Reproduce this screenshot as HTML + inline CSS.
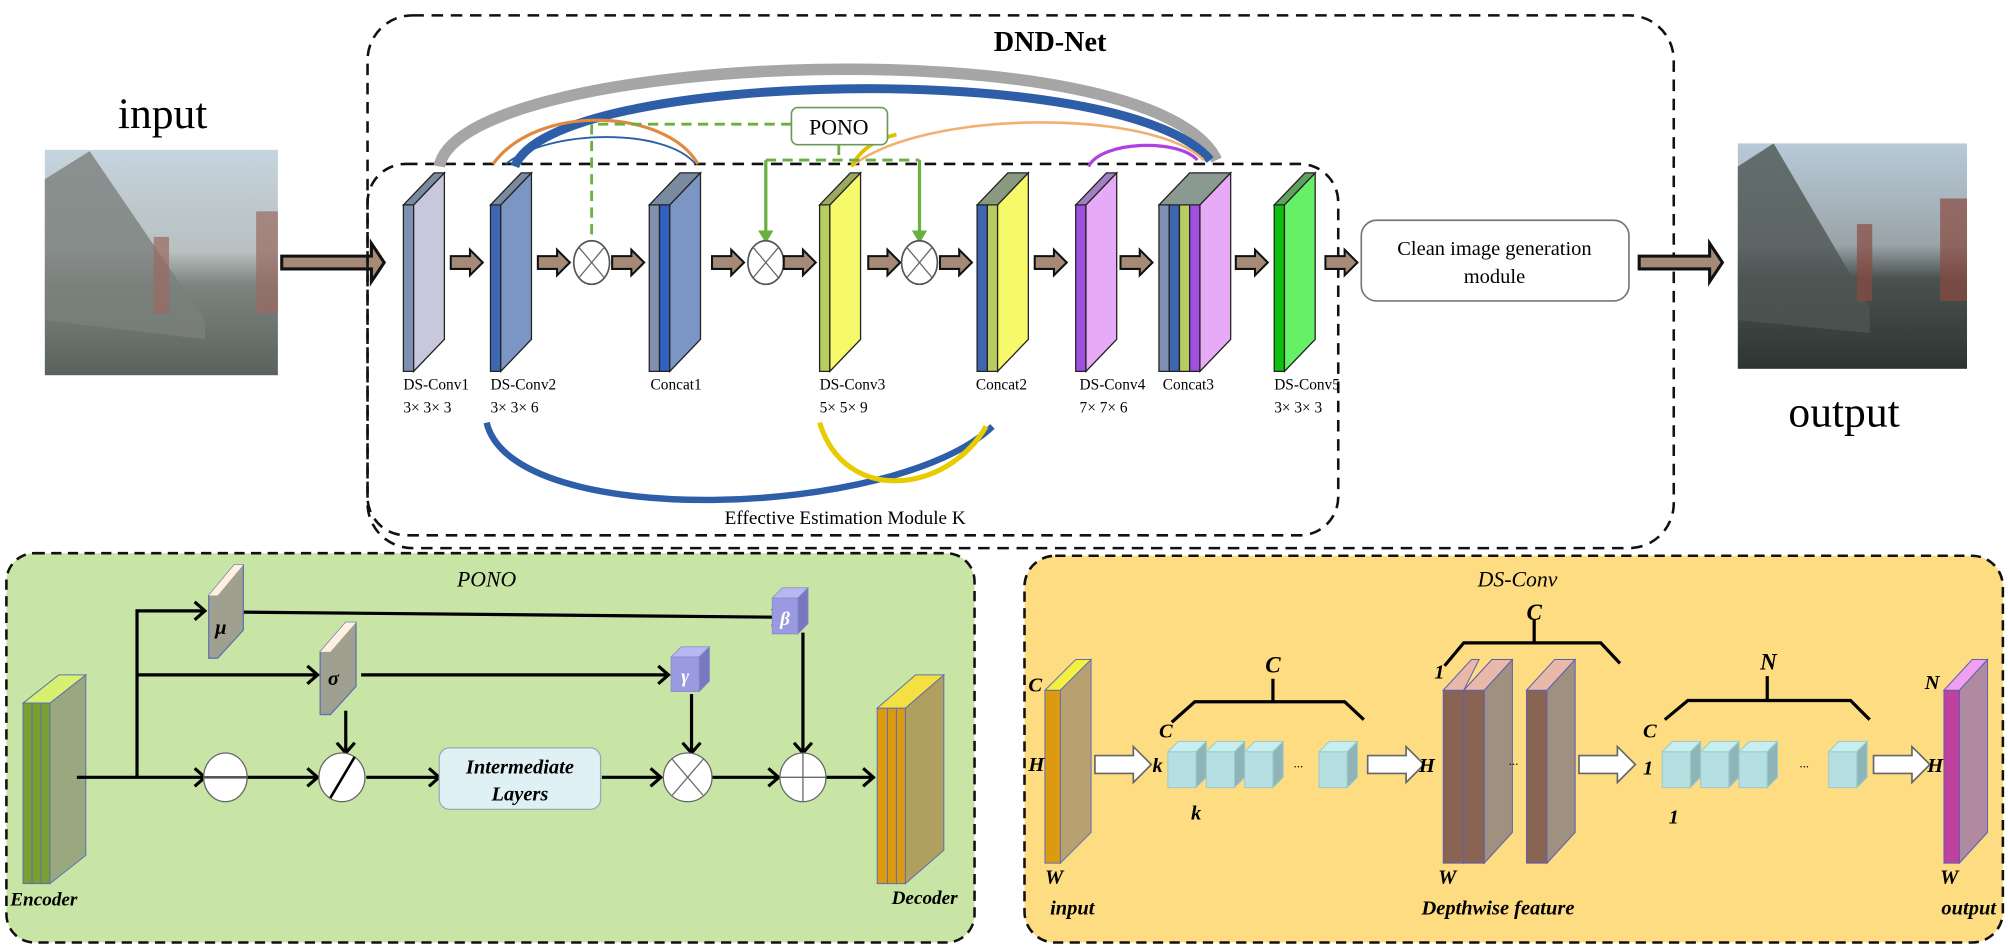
<!DOCTYPE html>
<html><head><meta charset="utf-8"><style>
html,body{margin:0;padding:0;background:#fff;overflow:hidden;}
svg{display:block;}
text{font-family:"Liberation Serif",serif;}
</style></head><body>
<svg width="2008" height="947" viewBox="0 0 1568 739.5" preserveAspectRatio="none" xmlns="http://www.w3.org/2000/svg">
<defs>
<linearGradient id="sky" x1="0" y1="0" x2="0" y2="1">
<stop offset="0" stop-color="#c6d4de"/><stop offset="0.45" stop-color="#b8c0c0"/><stop offset="0.6" stop-color="#7c8480"/><stop offset="1" stop-color="#5a625e"/></linearGradient>
<linearGradient id="sky2" x1="0" y1="0" x2="0" y2="1">
<stop offset="0" stop-color="#b8cad8"/><stop offset="0.45" stop-color="#9aa4a8"/><stop offset="0.6" stop-color="#4a5250"/><stop offset="1" stop-color="#2e3432"/></linearGradient>
<g id="sarrow"><polygon points="0,-5 15,-5 15,-10 25,0 15,10 15,5 0,5" fill="#a58a78" stroke="#111" stroke-width="1.6"/></g>
<g id="otimes"><ellipse cx="0" cy="0" rx="14" ry="17" fill="#fff" stroke="#555" stroke-width="1.3"/><line x1="-10" y1="-12" x2="10" y2="12" stroke="#666"/><line x1="10" y1="-12" x2="-10" y2="12" stroke="#666"/></g>
<g id="warrow"><polygon points="0,-7 30,-7 30,-14 44,0 30,14 30,7 0,7" fill="#fff" stroke="#666" stroke-width="1.3"/></g>
<g id="cube"><polygon points="0,0 22,0 22,28 0,28" fill="#b6dfe2" stroke="#9cc" stroke-width="0.8"/><polygon points="0,0 8,-8 30,-8 22,0" fill="#c8eef0" stroke="#9cc" stroke-width="0.8"/><polygon points="22,0 30,-8 30,20 22,28" fill="#8fb4b8" stroke="#9cc" stroke-width="0.8"/></g>
</defs>

<!-- input -->
<text x="127" y="100" font-size="34" text-anchor="middle">input</text>
<rect x="35" y="117" width="182" height="176" fill="url(#sky)"/>
<polygon points="35,140 70,118 160,250 160,265 35,250" fill="#7a807c" opacity="0.8"/>
<rect x="120" y="185" width="12" height="60" fill="#9a6a60" opacity="0.7"/>
<rect x="200" y="165" width="17" height="80" fill="#9a6a60" opacity="0.7"/>
<polygon points="220,200 290,200 290,190 300,205 290,220 290,210 220,210" fill="#a58a78" stroke="#111" stroke-width="2.4"/>

<!-- DND-Net outer box -->
<rect x="287" y="12" width="1020" height="416" rx="35" fill="none" stroke="#111" stroke-width="2" stroke-dasharray="9,6"/>
<text x="820" y="40" font-size="22" font-weight="bold" text-anchor="middle">DND-Net</text>
<rect x="287" y="128" width="758" height="290" rx="30" fill="none" stroke="#111" stroke-width="2" stroke-dasharray="9,6"/>

<!-- arcs top -->
<path d="M343,130 C360,40 900,20 950,125" fill="none" stroke="#a6a6a6" stroke-width="9"/>
<path d="M402,130 C430,55 880,45 945,125" fill="none" stroke="#2e5ea8" stroke-width="7"/>
<path d="M385,128 C420,80 520,85 545,128" fill="none" stroke="#e08a40" stroke-width="2.5"/>
<path d="M395,128 C430,100 520,100 543,128" fill="none" stroke="#2e5ea8" stroke-width="1.5"/>
<path d="M665,130 C720,85 900,85 940,125" fill="none" stroke="#f2b070" stroke-width="2"/>
<path d="M665,130 C670,120 680,110 700,105" fill="none" stroke="#e0c000" stroke-width="3"/>
<path d="M850,130 C860,110 920,108 935,125" fill="none" stroke="#b040e0" stroke-width="2.5"/>
<!-- bottom arcs -->
<path d="M380,330 C400,415 700,405 775,333" fill="none" stroke="#2e5ea8" stroke-width="5"/>
<path d="M640,330 C660,395 740,385 770,333" fill="none" stroke="#e8cc00" stroke-width="4"/>

<!-- PONO box -->
<rect x="618" y="84" width="75" height="29" rx="5" fill="#fff" stroke="#6a9a5a" stroke-width="1.3"/>
<text x="655" y="105" font-size="17" text-anchor="middle">PONO</text>
<path d="M618,97 L462,97 L462,190" fill="none" stroke="#6ab040" stroke-width="2.2" stroke-dasharray="8,5"/>
<path d="M655,113 L655,123 M598,125 L718,125" fill="none" stroke="#6ab040" stroke-width="2.2" stroke-dasharray="8,5"/>
<path d="M598,125 L598,182 M718,125 L718,182" stroke="#6ab040" stroke-width="2.5"/>
<polygon points="592,180 604,180 598,190" fill="#6ab040"/>
<polygon points="712,180 724,180 718,190" fill="#6ab040"/>

<!-- layers -->
<g stroke="#222" stroke-width="1">
<polygon points="315,160 323,160 323,290 315,290" fill="#8090b0"/>
<polygon points="323,160 347,135 347,265 323,290" fill="#c8c8dc"/>
<polygon points="315,160 339,135 347,135 323,160" fill="#7a8aa0"/>

<polygon points="383,160 391,160 391,290 383,290" fill="#3f66b0"/>
<polygon points="391,160 415,135 415,265 391,290" fill="#7b96c4"/>
<polygon points="383,160 407,135 415,135 391,160" fill="#7a8aa0"/>

<polygon points="507,160 515,160 515,290 507,290" fill="#8090b0"/>
<polygon points="515,160 523,160 523,290 515,290" fill="#3060c0"/>
<polygon points="507,160 531,135 547,135 523,160" fill="#7a8aa0"/>
<polygon points="523,160 547,135 547,265 523,290" fill="#7b96c4"/>

<polygon points="640,160 648,160 648,290 640,290" fill="#b8cc60"/>
<polygon points="648,160 672,135 672,265 648,290" fill="#f6fa6a"/>
<polygon points="640,160 664,135 672,135 648,160" fill="#9aaa60"/>

<polygon points="763,160 771,160 771,290 763,290" fill="#3f66b0"/>
<polygon points="771,160 779,160 779,290 771,290" fill="#b8cc60"/>
<polygon points="763,160 787,135 803,135 779,160" fill="#8a9a80"/>
<polygon points="779,160 803,135 803,265 779,290" fill="#f6fa6a"/>

<polygon points="840,160 848,160 848,290 840,290" fill="#a050e0"/>
<polygon points="848,160 872,135 872,265 848,290" fill="#e6aaf6"/>
<polygon points="840,160 864,135 872,135 848,160" fill="#a080c0"/>

<polygon points="905,160 913,160 913,290 905,290" fill="#8090b0"/>
<polygon points="913,160 921,160 921,290 913,290" fill="#3f66b0"/>
<polygon points="921,160 929,160 929,290 921,290" fill="#b8cc60"/>
<polygon points="929,160 937,160 937,290 929,290" fill="#a050e0"/>
<polygon points="905,160 929,135 961,135 937,160" fill="#8a9a90"/>
<polygon points="937,160 961,135 961,265 937,290" fill="#e6aaf6"/>

<polygon points="995,160 1003,160 1003,290 995,290" fill="#10c010"/>
<polygon points="1003,160 1027,135 1027,265 1003,290" fill="#66f066"/>
<polygon points="995,160 1019,135 1027,135 1003,160" fill="#60a060"/>
</g>
<use href="#sarrow" x="352" y="205"/>
<use href="#sarrow" x="420" y="205"/>
<use href="#otimes" x="462" y="205"/>
<use href="#sarrow" x="478" y="205"/>
<use href="#sarrow" x="556" y="205"/>
<use href="#otimes" x="598" y="205"/>
<use href="#sarrow" x="612" y="205"/>
<use href="#sarrow" x="678" y="205"/>
<use href="#otimes" x="718" y="205"/>
<use href="#sarrow" x="734" y="205"/>
<use href="#sarrow" x="808" y="205"/>
<use href="#sarrow" x="875" y="205"/>
<use href="#sarrow" x="965" y="205"/>
<use href="#sarrow" x="1035" y="205"/>

<g font-size="12">
<text x="315" y="304">DS-Conv1</text><text x="315" y="322">3× 3× 3</text>
<text x="383" y="304">DS-Conv2</text><text x="383" y="322">3× 3× 6</text>
<text x="508" y="304">Concat1</text>
<text x="640" y="304">DS-Conv3</text><text x="640" y="322">5× 5× 9</text>
<text x="762" y="304">Concat2</text>
<text x="843" y="304">DS-Conv4</text><text x="843" y="322">7× 7× 6</text>
<text x="908" y="304">Concat3</text>
<text x="995" y="304">DS-Conv5</text><text x="995" y="322">3× 3× 3</text>
</g>
<text x="660" y="409" font-size="15" text-anchor="middle">Effective Estimation Module K</text>

<rect x="1063" y="172" width="209" height="63" rx="12" fill="#fff" stroke="#777" stroke-width="1.3"/>
<text x="1167" y="199" font-size="16" text-anchor="middle">Clean image generation</text>
<text x="1167" y="221" font-size="16" text-anchor="middle">module</text>
<polygon points="1280,200 1335,200 1335,190 1345,205 1335,220 1335,210 1280,210" fill="#a58a78" stroke="#111" stroke-width="2.4"/>
<rect x="1357" y="112" width="179" height="176" fill="url(#sky2)"/>
<polygon points="1357,130 1385,112 1460,240 1460,260 1357,250" fill="#4e5654" opacity="0.8"/>
<rect x="1450" y="175" width="12" height="60" fill="#8a4a40" opacity="0.7"/>
<rect x="1515" y="155" width="21" height="80" fill="#8a4a40" opacity="0.7"/>
<text x="1440" y="333" font-size="34" text-anchor="middle">output</text>

<!-- PONO panel -->
<rect x="5" y="432" width="756" height="304" rx="22" fill="#c9e5a6" stroke="#111" stroke-width="2" stroke-dasharray="8,5"/>
<text x="380" y="458" font-size="17" font-style="italic" text-anchor="middle">PONO</text>
<g stroke="#6070b0" stroke-width="0.8">
<polygon points="39,549 67,527 67,668 39,690" fill="#9aa880"/>
<rect x="18" y="549" width="7" height="141" fill="#78a030"/>
<rect x="25" y="549" width="7" height="141" fill="#78a030"/>
<rect x="32" y="549" width="7" height="141" fill="#78a030"/>
<polygon points="18,549 46,527 67,527 39,549" fill="#d8f070"/>
</g>
<text x="8" y="707" font-size="15" font-weight="bold" font-style="italic">Encoder</text>
<g stroke="#6070b0" stroke-width="0.8">
<polygon points="707,553 737,527 737,664 707,690" fill="#b0a060"/>
<rect x="685" y="553" width="8" height="137" fill="#dc9a10"/>
<rect x="693" y="553" width="7" height="137" fill="#dc9a10"/>
<rect x="700" y="553" width="7" height="137" fill="#dc9a10"/>
<polygon points="685,553 715,527 737,527 707,553" fill="#f4e040"/>
</g>
<text x="722" y="706" font-size="15" font-weight="bold" font-style="italic" text-anchor="middle">Decoder</text>
<g stroke="#000" stroke-width="2.5" fill="none">
<path d="M60,607 L160,607"/><path d="M107,607 L107,477 L158,477"/><path d="M107,527 L246,527"/>
<path d="M193,607 L248,607"/><path d="M286,607 L343,607"/><path d="M470,607 L516,607"/><path d="M556,607 L608,607"/><path d="M645,607 L682,607"/>
<path d="M190,478 L611,482"/><path d="M282,527 L522,527"/>
<path d="M270,555 L270,587"/><path d="M540,542 L540,587"/><path d="M627,494 L627,587"/>
</g>
<g fill="none" stroke="#000" stroke-width="2.5">
<path d="M152,470 L160,477 L152,484"/><path d="M240,520 L248,527 L240,534"/>
<path d="M152,600 L160,607 L152,614"/><path d="M240,600 L248,607 L240,614"/><path d="M335,600 L343,607 L335,614"/>
<path d="M508,600 L516,607 L508,614"/><path d="M600,600 L608,607 L600,614"/><path d="M674,600 L682,607 L674,614"/>
<path d="M603,475 L611,482 L603,489"/><path d="M514,520 L522,527 L514,534"/>
<path d="M263,580 L270,588 L277,580"/><path d="M533,580 L540,588 L547,580"/><path d="M620,580 L627,588 L634,580"/>
</g>
<polygon points="163,465 183,441 190,441 190,492 170,514 163,514" fill="#a0a090" stroke="#6070b0"/>
<polygon points="163,465 183,441 190,441 170,465" fill="#fff0e0"/>
<text x="168" y="495" font-size="16" font-weight="bold" font-style="italic">μ</text>
<polygon points="250,509 270,486 278,486 278,536 258,558 250,558" fill="#a0a090" stroke="#6070b0"/>
<polygon points="250,509 270,486 278,486 258,509" fill="#fff0e0"/>
<text x="256" y="535" font-size="16" font-weight="bold" font-style="italic">σ</text>
<g stroke="#8888c8" stroke-width="0.6">
<rect x="524" y="513" width="22" height="27" fill="#9a9ae0"/><polygon points="524,513 532,505 554,505 546,513" fill="#b8b8f0"/><polygon points="546,513 554,505 554,532 546,540" fill="#7878c0"/>
<rect x="603" y="467" width="20" height="28" fill="#9a9ae0"/><polygon points="603,467 611,459 631,459 623,467" fill="#b8b8f0"/><polygon points="623,467 631,459 631,487 623,495" fill="#7878c0"/>
</g>
<text x="535" y="533" font-size="15" font-weight="bold" font-style="italic" fill="#fff" text-anchor="middle">γ</text>
<text x="613" y="488" font-size="15" font-weight="bold" font-style="italic" fill="#fff" text-anchor="middle">β</text>
<ellipse cx="176" cy="607" rx="17" ry="19" fill="#fff" stroke="#666"/><line x1="159" y1="607" x2="193" y2="607" stroke="#555" stroke-width="2"/>
<ellipse cx="267" cy="607" rx="18" ry="19" fill="#fff" stroke="#666"/><line x1="258" y1="623" x2="277" y2="591" stroke="#000" stroke-width="2"/>
<ellipse cx="537" cy="607" rx="19" ry="19" fill="#fff" stroke="#666"/><line x1="525" y1="593" x2="549" y2="621" stroke="#666"/><line x1="549" y1="593" x2="525" y2="621" stroke="#666"/>
<ellipse cx="627" cy="607" rx="18" ry="19" fill="#fff" stroke="#666"/><line x1="609" y1="607" x2="645" y2="607" stroke="#666"/><line x1="627" y1="588" x2="627" y2="626" stroke="#666"/>
<rect x="343" y="584" width="126" height="48" rx="8" fill="#dff1f5" stroke="#9ab"/>
<text x="406" y="604" font-size="16" font-weight="bold" font-style="italic" text-anchor="middle">Intermediate</text>
<text x="406" y="625" font-size="16" font-weight="bold" font-style="italic" text-anchor="middle">Layers</text>

<!-- DS-Conv panel -->
<rect x="800" y="434" width="764" height="302" rx="24" fill="#fddc82" stroke="#111" stroke-width="2" stroke-dasharray="8,5"/>
<text x="1185" y="458" font-size="17" font-style="italic" text-anchor="middle">DS-Conv</text>
<g font-size="16" font-weight="bold" font-style="italic">
<g stroke="#6070b0" stroke-width="0.8">
<polygon points="828,539 852,515 852,650 828,674" fill="#b8a070"/>
<rect x="816" y="539" width="12" height="135" fill="#dc9a10"/>
<polygon points="816,539 840,515 852,515 828,539" fill="#f4f040"/>
</g>
<text x="803" y="540">C</text><text x="803" y="602">H</text><text x="816" y="690">W</text>
<text x="820" y="714">input</text>
<use href="#warrow" x="855" y="597"/>
<text x="900" y="603">k</text>
<use href="#cube" x="912" y="587"/><use href="#cube" x="942" y="587"/><use href="#cube" x="972" y="587"/><use href="#cube" x="1030" y="587"/>
<text x="1010" y="602" font-size="10" font-weight="normal">···</text>
<text x="905" y="576">C</text><text x="930" y="640">k</text>
<path d="M915,564 L933,548 L1050,548 L1065,562 M994,548 L994,530" fill="none" stroke="#000" stroke-width="2.5"/>
<text x="994" y="525" text-anchor="middle" font-size="18">C</text>
<use href="#warrow" x="1068" y="597"/>
<text x="1108" y="603">H</text>
<g stroke="#6060b0" stroke-width="0.8">
<polygon points="1143,539 1165,515 1165,650 1143,674" fill="#a09080"/>
<rect x="1127" y="539" width="16" height="135" fill="#8a6452"/>
<polygon points="1127,539 1149,515 1155,515 1143,539" fill="#e8b8a8"/>
<polygon points="1159,539 1181,515 1181,650 1159,674" fill="#a09080"/>
<rect x="1143" y="539" width="16" height="135" fill="#8a6452"/>
<polygon points="1143,539 1165,515 1181,515 1159,539" fill="#e8b8a8"/>
<polygon points="1208,539 1230,515 1230,650 1208,674" fill="#a09080"/>
<rect x="1192" y="539" width="16" height="135" fill="#8a6452"/>
<polygon points="1192,539 1214,515 1230,515 1208,539" fill="#e8b8a8"/>
</g>
<text x="1178" y="600" font-size="10" font-weight="normal">···</text>
<text x="1120" y="530">1</text><text x="1123" y="690">W</text>
<path d="M1128,520 L1143,502 L1250,502 L1265,518 M1198,502 L1198,484" fill="none" stroke="#000" stroke-width="2.5"/>
<text x="1198" y="484" text-anchor="middle" font-size="18">C</text>
<text x="1110" y="714">Depthwise feature</text>
<use href="#warrow" x="1233" y="597"/>
<text x="1283" y="576">C</text><text x="1283" y="605">1</text><text x="1303" y="643">1</text>
<use href="#cube" x="1298" y="587"/><use href="#cube" x="1328" y="587"/><use href="#cube" x="1358" y="587"/><use href="#cube" x="1428" y="587"/>
<text x="1405" y="602" font-size="10" font-weight="normal">···</text>
<path d="M1300,562 L1318,547 L1445,547 L1460,562 M1380,547 L1380,528" fill="none" stroke="#000" stroke-width="2.5"/>
<text x="1381" y="523" text-anchor="middle" font-size="18">N</text>
<use href="#warrow" x="1463" y="597"/>
<text x="1505" y="603">H</text><text x="1503" y="538">N</text><text x="1515" y="690">W</text>
<g stroke="#6060b0" stroke-width="0.8">
<polygon points="1530,539 1552,515 1552,650 1530,674" fill="#b08aa0"/>
<rect x="1518" y="539" width="12" height="135" fill="#c040a0"/>
<polygon points="1518,539 1540,515 1552,515 1530,539" fill="#f0a0f0"/>
</g>
<text x="1516" y="714">output</text>
</g>
</svg>
</body></html>
